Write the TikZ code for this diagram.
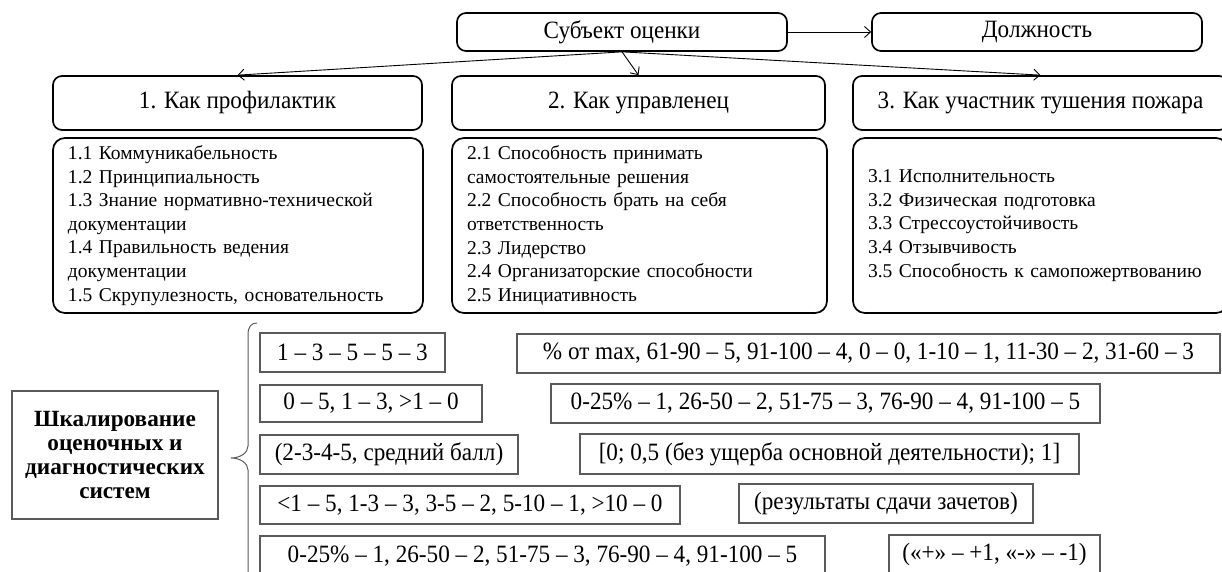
\documentclass[tikz,border=0pt]{standalone}
\usepackage{fontspec}
\setmainfont{Liberation Serif}
\newfontfamily\tallserif{Liberation Serif}[FakeStretch=0.93]
\usetikzlibrary{arrows.meta}
\definecolor{sgray}{HTML}{5A5A5A}
\begin{document}
\begin{tikzpicture}[x=1bp,y=-1bp,
  rbox/.style={draw=black, line width=1.7bp, rounded corners=9bp, inner sep=0pt, font=\tallserif\fontsize{25}{28}\selectfont},
  lbox/.style={draw=black, line width=1.7bp, rounded corners=12bp, inner xsep=15bp, inner ysep=0pt, align=left, font=\fontsize{19.6}{23.7}\selectfont},
  sbox/.style={draw=sgray, line width=1.4bp, inner sep=0pt, font=\tallserif\fontsize{25}{28}\selectfont},
  arr/.style={-{Straight Barb[length=6bp,width=11bp]}, line width=0.9bp},
]
\useasboundingbox (0,0) rectangle (1222,572);

% top
\node[rbox, minimum width=330bp, minimum height=38bp] (subj) at (622,32) {Субъект оценки};
\node[rbox, minimum width=330bp, minimum height=38bp] (dolzh) at (1037,32) {Должность};

\node[rbox, minimum width=369bp, minimum height=54bp] (r1) at (237.5,103) {1. Как профилактик};
\node[rbox, minimum width=373bp, minimum height=54bp] (r2) at (638.5,103) {2. Как управленец};
\node[rbox, minimum width=375bp, minimum height=54bp] (r3) at (1040.5,103) {3. Как участник тушения пожара};

\draw[arr] (subj.east) -- (dolzh.west);
\draw[arr] (subj.south) -- (r1.north);
\draw[arr] (subj.south) -- (r2.north);
\draw[arr] (subj.south) -- (r3.north);

\node[lbox, text width=340bp, minimum height=175bp] (l1) at (238,225.5) {1.1 Коммуникабельность\\
1.2 Принципиальность\\
1.3 Знание нормативно-технической\\
документации\\
1.4 Правильность ведения\\
документации\\
1.5 Скрупулезность, основательность};
\node[lbox, text width=345bp, minimum height=175bp] (l2) at (639.5,225.5) {2.1 Способность принимать\\
самостоятельные решения\\
2.2 Способность брать на себя\\
ответственность\\
2.3 Лидерство\\
2.4 Организаторские способности\\
2.5 Инициативность};
\node[lbox, text width=345bp, minimum height=175bp] (l3) at (1040.5,225.5) {3.1 Исполнительность\\
3.2 Физическая подготовка\\
3.3 Стрессоустойчивость\\
3.4 Отзывчивость\\
3.5 Способность к самопожертвованию};

% bottom
\node[sbox, minimum width=206bp, minimum height=128bp, align=center, font=\bfseries\fontsize{23.3}{24}\selectfont] (lab) at (115,455) {Шкалирование\\оценочных и\\диагностических\\систем};

\draw[sgray, line width=1bp] (257,323) .. controls (251,323) and (248,327) .. (248,335)
  -- (248,446) .. controls (248,453) and (240,458) .. (231,458)
  .. controls (240,458) and (248,463) .. (248,470)
  -- (248,581) .. controls (248,589) and (251,593) .. (257,593);

\node[sbox, minimum width=185bp, minimum height=39bp] (b1) at (352.5,352.5) {1 – 3 – 5 – 5 – 3};
\node[sbox, minimum width=222bp, minimum height=37bp] (b2) at (371,403.5) {0 – 5, 1 – 3, >1 – 0};
\node[sbox, minimum width=258bp, minimum height=39bp] (b3) at (389,454.5) {(2-3-4-5, средний балл)};
\node[sbox, minimum width=420bp, minimum height=38bp] (b4) at (470,505) {<1 – 5, 1-3 – 3, 3-5 – 2, 5-10 – 1, >10 – 0};
\node[sbox, minimum width=565bp, minimum height=40bp] (b5) at (542.5,556) {0-25\% – 1, 26-50 – 2, 51-75 – 3, 76-90 – 4, 91-100 – 5};

\node[sbox, minimum width=703bp, minimum height=39bp] (c1) at (868.5,353.5) {\% от max, 61-90 – 5, 91-100 – 4, 0 – 0, 1-10 – 1, 11-30 – 2, 31-60 – 3};
\node[sbox, minimum width=549bp, minimum height=39bp] (c2) at (825.5,403.5) {0-25\% – 1, 26-50 – 2, 51-75 – 3, 76-90 – 4, 91-100 – 5};
\node[sbox, minimum width=499bp, minimum height=40bp] (c3) at (829.5,454) {[0; 0,5 (без ущерба основной деятельности); 1]};
\node[sbox, minimum width=294bp, minimum height=39bp] (c4) at (886,503.5) {(результаты сдачи зачетов)};
\node[sbox, minimum width=211bp, minimum height=40bp] (c5) at (994.5,555) {(«+» – +1, «-» – -1)};
\end{tikzpicture}
\end{document}
